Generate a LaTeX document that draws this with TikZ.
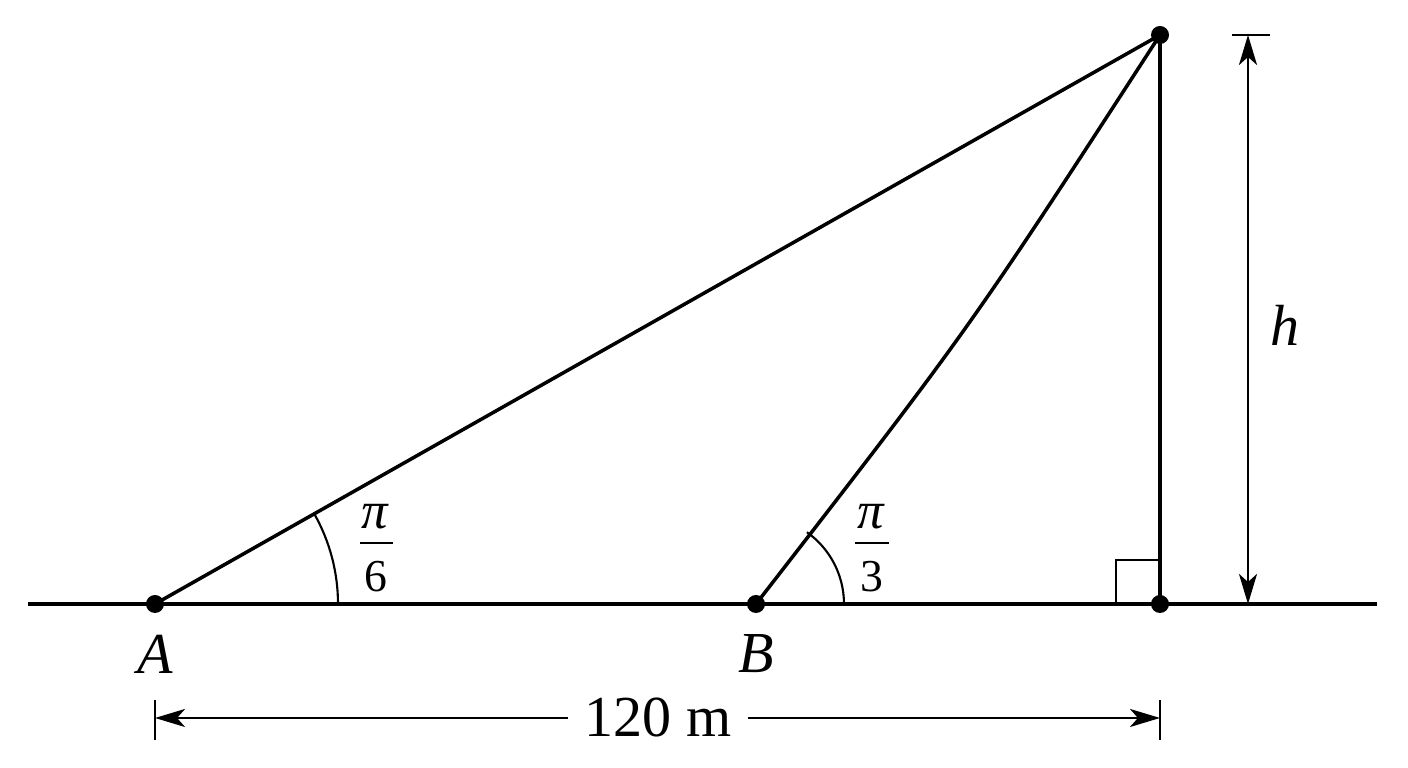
\documentclass[tikz,border=0pt]{standalone}
\usepackage{fontspec}
\setmainfont{Liberation Serif}
\usetikzlibrary{arrows.meta}
\begin{document}
\begin{tikzpicture}[x=0.01cm,y=-0.01cm,
  mainline/.style={line width=1pt},
  thinline/.style={line width=0.6pt},
  dimline/.style={line width=0.75pt},
  fracbar/.style={line width=0.75pt},
  tipend/.style={-{Stealth[length=0.3cm,width=0.18cm,inset=0.08cm]}},
  tipboth/.style={{Stealth[length=0.3cm,width=0.18cm,inset=0.08cm]}-{Stealth[length=0.3cm,width=0.18cm,inset=0.08cm]}},
  dot/.style={circle,fill,inner sep=0pt,minimum size=0.18cm},
  lbl/.style={font=\fontsize{16.5}{18}\selectfont\itshape,inner sep=0pt},
  dimlbl/.style={font=\fontsize{16.5}{18}\selectfont,inner sep=4.5pt},
  fraclbl/.style={font=\fontsize{13}{14}\selectfont,inner sep=0pt},
  pilbl/.style={font=\fontsize{15}{16}\selectfont\itshape,inner sep=0pt}]
\useasboundingbox (0,0) rectangle (1408,768);
\coordinate (L) at (28,604);
\coordinate (R) at (1377,604);
\coordinate (A) at (155,604);
\coordinate (B) at (756,604);
\coordinate (F) at (1160,604);
\coordinate (T) at (1160,35);
\coordinate (C) at (970,328);
% ground and lines
\draw[mainline] (L) -- (R);
\draw[mainline] (A) -- (T);
\draw[mainline] (B) .. controls (C) .. (T);
\draw[mainline] (F) -- (T);
% right angle mark
\draw[thinline] (1116,604) |- (1160,560);
% angle arcs
\draw[thinline] (338,604) arc[start angle=0,end angle=29.5,radius=1.83cm];
\draw[thinline] (844,604) arc[start angle=0,end angle=54.6,radius=0.88cm];
% dots
\foreach \p in {A,B,F,T} \node[dot] at (\p) {};
% labels
\node[lbl] (la) at (155,654) {A};
\node[lbl] (lb) at (756,654) {B};
\node[lbl] (lh) at (1285,325) {h};
% fraction pi/6
\node[pilbl,anchor=base] (n6) at (375,529) {π};
\draw[fracbar] (360,543) -- (393,543);
\node[fraclbl,anchor=base] (d6) at (376,592) {6};
% fraction pi/3
\node[pilbl,anchor=base] (n3) at (871,529) {π};
\draw[fracbar] (855,543) -- (889,543);
\node[fraclbl,anchor=base] (d3) at (872,592) {3};
% height dimension
\coordinate (HT) at (1248,35);
\coordinate (HB) at (1248,604);
\coordinate (HL) at (1232,35);
\coordinate (HR) at (1270,35);
\draw[dimline] (HL) -- (HR);
\draw[dimline,tipboth] (HT) -- (HB);
% distance dimension
\coordinate (D1) at (155,718);
\coordinate (D2) at (1160,718);
\coordinate (D1a) at (155,700);
\coordinate (D1b) at (155,740);
\coordinate (D2a) at (1160,700);
\coordinate (D2b) at (1160,740);
\draw[dimline] (D1a) -- (D1b);
\draw[dimline] (D2a) -- (D2b);
\node[dimlbl] (m) at (658,718) {120 m};
\draw[dimline,tipend] (m) -- (D1);
\draw[dimline,tipend] (m) -- (D2);
\end{tikzpicture}
\end{document}
